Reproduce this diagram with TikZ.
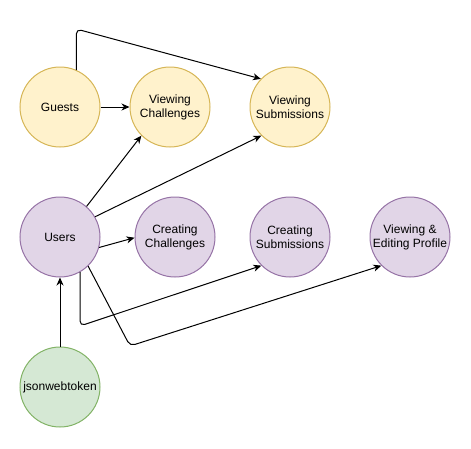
\documentclass[tikz,border=0pt]{standalone}
\usepackage{fontspec}
\setmainfont{Liberation Sans}
\usetikzlibrary{arrows.meta}
\definecolor{yfill}{HTML}{FFF2CC}\definecolor{ydraw}{HTML}{D6B656}
\definecolor{pfill}{HTML}{E1D5E7}\definecolor{pdraw}{HTML}{9673A6}
\definecolor{gfill}{HTML}{D5E8D4}\definecolor{gdraw}{HTML}{82B366}
\begin{document}
\begin{tikzpicture}[x=1pt,y=-1pt,
  bubble/.style={circle,minimum size=80pt,inner sep=0pt,line width=1pt,align=center,font=\fontsize{12}{14}\selectfont},
  guest/.style={bubble,fill=yfill,draw=ydraw},
  user/.style={bubble,fill=pfill,draw=pdraw},
  token/.style={bubble,fill=gfill,draw=gdraw},
  conn/.style={line width=1pt,-{Stealth[length=8pt,width=7pt,inset=2.5pt]},rounded corners=5pt}]
\useasboundingbox (0,0) rectangle (471,448);
\node[guest] (guests) at (60,107) {Guests};
\node[guest] (vc) at (170,107) {Viewing\\Challenges};
\node[guest] (vs) at (290,107) {Viewing\\Submissions};
\node[user] (users) at (60,237) {Users};
\node[user] (cc) at (175,237) {Creating\\Challenges};
\node[user] (cs) at (290,237) {Creating\\Submissions};
\node[user] (prof) at (410,237) {Viewing \&\\Editing Profile};
\node[token] (jwt) at (60,387) {jsonwebtoken};
\coordinate (g1) at (76.3,29);
\coordinate (u1) at (80,326);
\coordinate (u2) at (130,346);
\draw[conn] (guests.east) -- (vc.west);
\draw[conn] (guests.66) -- (g1) -- (vs.136);
\draw[conn] (users.49) -- (vc.225);
\draw[conn] (users.30) -- (vs.225);
\draw[conn] (users.-15) -- (cc.181);
\draw[conn] (users.-60) -- (u1) -- (cs.225);
\draw[conn] (users.-46) -- (u2) -- (prof.225);
\draw[conn] (jwt.north) -- (users.south);
\end{tikzpicture}
\end{document}
